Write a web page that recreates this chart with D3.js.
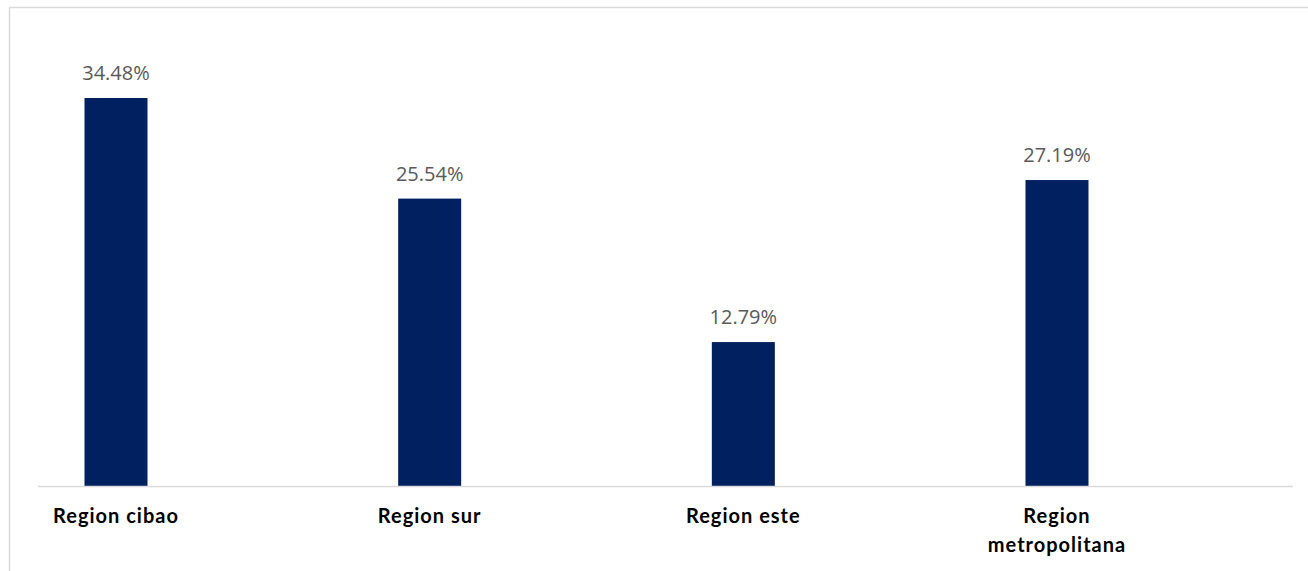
<!DOCTYPE html>
<html>
<head>
<meta charset="utf-8">
<script src="https://cdn.jsdelivr.net/npm/d3@7"></script>
<style>
  body { margin: 0; background: #fff; }
  svg { display: block; }
</style>
</head>
<body>
<svg></svg>
<script>
// Data
const categories = ["Region cibao", "Region sur", "Region este", "Region metropolitana"]
const label_lines = [["Region cibao"], ["Region sur"], ["Region este"], ["Region", "metropolitana"]]
const values = [34.48, 25.54, 12.79, 27.19]

const width = 1308
const height = 571
const baseline = 486
const bar_width = 63

const svg = d3.select("svg")
    .attr("width", width)
    .attr("height", height)

// Chart frame
svg.append("rect")
    .attr("x", 9.5)
    .attr("y", 7.5)
    .attr("width", width)
    .attr("height", height)
    .attr("fill", "none")
    .attr("stroke", "#d9d9d9")
    .attr("stroke-width", 1.5)

// Scales
const x = d3.scalePoint()
    .domain(categories)
    .range([116, 1057])

const y = d3.scaleLinear()
    .domain([0, 34.48])
    .range([baseline, 98])

// Bars
svg.selectAll("rect.bar")
    .data(values)
    .enter()
    .append("rect")
    .attr("class", "bar")
    .attr("x", (d, i) => x(categories[i]) - bar_width / 2)
    .attr("y", d => y(d))
    .attr("width", bar_width)
    .attr("height", d => baseline - y(d))
    .attr("fill", "#002060")

// Category axis line
svg.append("line")
    .attr("x1", 38)
    .attr("x2", 1293)
    .attr("y1", baseline + 0.5)
    .attr("y2", baseline + 0.5)
    .attr("stroke", "#d9d9d9")
    .attr("stroke-width", 1.5)

// Value labels
svg.selectAll("text.value")
    .data(values)
    .enter()
    .append("text")
    .attr("class", "value")
    .attr("x", (d, i) => x(categories[i]))
    .attr("y", d => y(d) - 18)
    .attr("text-anchor", "middle")
    .attr("font-family", "'Open Sans', sans-serif")
    .attr("font-size", "20px")
    .attr("fill", "#595959")
    .text(d => d.toFixed(2) + "%")

// Category labels
const cat_labels = svg.selectAll("text.cat")
    .data(label_lines)
    .enter()
    .append("text")
    .attr("class", "cat")
    .attr("x", (d, i) => x(categories[i]))
    .attr("y", 523)
    .attr("text-anchor", "middle")
    .attr("font-family", "Lato, sans-serif")
    .attr("font-weight", "bold")
    .attr("font-size", "20px")
    .attr("letter-spacing", "1px")
    .attr("fill", "#000")

cat_labels.selectAll("tspan")
    .data((d, i) => d.map(t => ({ t, i })))
    .enter()
    .append("tspan")
    .attr("x", d => x(categories[d.i]))
    .attr("dy", (d, j) => j === 0 ? 0 : 29)
    .text(d => d.t)
</script>
</body>
</html>
